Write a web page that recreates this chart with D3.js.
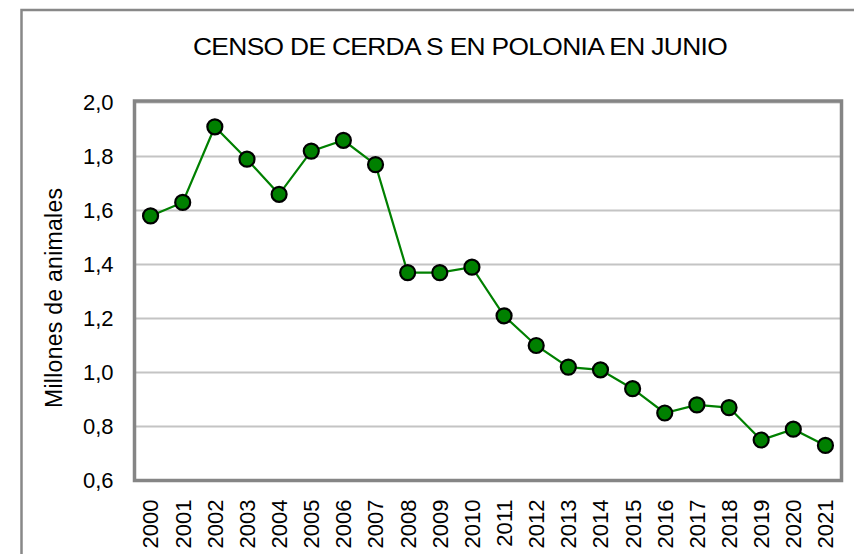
<!DOCTYPE html>
<html>
<head>
<meta charset="utf-8">
<script src="https://cdn.jsdelivr.net/npm/d3@7"></script>
<style>
  body { margin: 0; background: #fff; }
  svg { display: block; }
  text { font-family: "Liberation Sans", Arial, sans-serif; fill: #000; }
</style>
</head>
<body>
<div id="chart"></div>
<script>
const years = ['2000', '2001', '2002', '2003', '2004', '2005', '2006', '2007', '2008', '2009', '2010',
    '2011', '2012', '2013', '2014', '2015', '2016', '2017', '2018', '2019', '2020', '2021']
const cerdas = [1.58, 1.63, 1.91, 1.79, 1.66, 1.82, 1.86, 1.77, 1.37, 1.37, 1.39,
    1.21, 1.10, 1.02, 1.01, 0.94, 0.85, 0.88, 0.87, 0.75, 0.79, 0.73]
const yTicks = [0.6, 0.8, 1.0, 1.2, 1.4, 1.6, 1.8, 2.0]
const title = 'CENSO DE CERDA S EN POLONIA EN JUNIO'
const yTitle = 'Millones de animales'

const width = 854
const height = 554
const plot = { left: 134.5, right: 841.5, top: 102.5, bottom: 480.5 }

const svg = d3.select('#chart').append('svg')
    .attr('width', width)
    .attr('height', height)

// outer chart border (runs off the right and bottom edges)
svg.append('rect')
    .attr('x', 21.5)
    .attr('y', 10)
    .attr('width', 900)
    .attr('height', 600)
    .attr('fill', '#fff')
    .attr('stroke', '#888')
    .attr('stroke-width', 2.5)

const x = d3.scaleBand()
    .domain(years)
    .range([plot.left, plot.right])
    .padding(0)

const y = d3.scaleLinear()
    .domain([0.6, 2.0])
    .range([plot.bottom, plot.top])

// gridlines
svg.append('g')
    .selectAll('line')
    .data(yTicks)
    .enter()
    .append('line')
    .attr('x1', plot.left)
    .attr('x2', plot.right)
    .attr('y1', (d) => y(d))
    .attr('y2', (d) => y(d))
    .attr('stroke', '#c4c4c4')
    .attr('stroke-width', 2)

// plot frame
svg.append('rect')
    .attr('x', plot.left)
    .attr('y', plot.top - 1.5)
    .attr('width', plot.right - plot.left)
    .attr('height', plot.bottom - plot.top + 1.5)
    .attr('fill', 'none')
    .attr('stroke', '#858585')
    .attr('stroke-width', 3.5)

// y axis labels
const yAxis = svg.append('g')
    .attr('transform', 'translate(' + plot.left + ',0)')
    .call(d3.axisLeft(y).tickValues(yTicks).tickSize(0).tickPadding(21)
        .tickFormat((d) => d3.format('.1f')(d).replace('.', ',')))
yAxis.select('.domain').remove()
yAxis.selectAll('text')
    .attr('font-size', 22)
    .attr('font-family', '"Liberation Sans", Arial, sans-serif')
    .attr('fill', '#000')

// x axis labels, rotated
const xAxis = svg.append('g')
    .attr('transform', 'translate(0,' + plot.bottom + ')')
    .call(d3.axisBottom(x).tickSize(0))
xAxis.select('.domain').remove()
xAxis.selectAll('text')
    .attr('font-size', 22)
    .attr('font-family', '"Liberation Sans", Arial, sans-serif')
    .attr('fill', '#000')
    .attr('text-anchor', 'end')
    .attr('transform', 'translate(0,19) rotate(-90)')
    .attr('x', 0)
    .attr('y', 0)
    .attr('dy', '0.36em')

// line + markers
const line = d3.line()
    .x((d, i) => x(years[i]) + x.bandwidth() / 2)
    .y((d) => y(d))

svg.append('path')
    .datum(cerdas)
    .attr('d', line)
    .attr('fill', 'none')
    .attr('stroke', '#008000')
    .attr('stroke-width', 2.2)

svg.append('g')
    .selectAll('circle')
    .data(cerdas)
    .enter()
    .append('circle')
    .attr('cx', (d, i) => x(years[i]) + x.bandwidth() / 2)
    .attr('cy', (d) => y(d))
    .attr('r', 7.5)
    .attr('fill', '#008000')
    .attr('stroke', '#000')
    .attr('stroke-width', 2.2)

// titles
svg.append('text')
    .attr('x', 193)
    .attr('y', 54.5)
    .attr('font-size', 24)
    .attr('letter-spacing', -0.6)
    .attr('textLength', 534)
    .attr('lengthAdjust', 'spacingAndGlyphs')
    .text(title)

svg.append('text')
    .attr('transform', 'translate(62,408) rotate(-90)')
    .attr('font-size', 23)
    .attr('textLength', 220)
    .attr('lengthAdjust', 'spacing')
    .text(yTitle)
</script>
</body>
</html>
